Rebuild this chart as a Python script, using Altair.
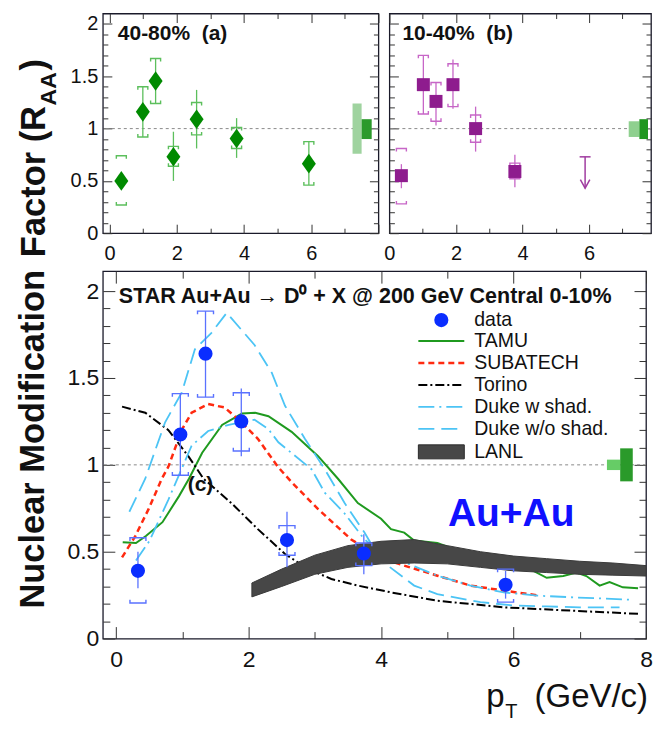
import altair as alt
import pandas as pd

FONT = "Liberation Sans"

# ---------------- Panel (a): 40-80% ----------------
a_pt      = [0.35, 0.99, 1.37, 1.90, 2.59, 3.78, 5.93]
a_val     = [0.50, 1.16, 1.455, 0.73, 1.09, 0.905, 0.665]
a_stat_lo = [0.45, 0.92, 1.24, 0.50, 0.81, 0.72, 0.46]
a_stat_hi = [0.56, 1.40, 1.67, 0.97, 1.37, 1.10, 0.875]
a_sys_lo  = [0.27, 0.92, 1.24, 0.64, 0.94, 0.81, 0.46]
a_sys_hi  = [0.74, 1.40, 1.67, 0.83, 1.25, 1.01, 0.875]
a_norm_light = [7.23, 7.50, 0.76, 1.24]
a_norm_dark  = [7.50, 7.80, 0.90, 1.09]

# ---------------- Panel (b): 10-40% ----------------
b_pt      = [0.36, 1.02, 1.40, 1.91, 2.59, 3.77]
b_val     = [0.55, 1.42, 1.26, 1.42, 1.00, 0.59]
b_stat_lo = [0.43, 1.14, 1.03, 1.19, 0.78, 0.44]
b_stat_hi = [0.66, 1.70, 1.44, 1.66, 1.21, 0.75]
b_sys_lo  = [0.28, 1.14, 1.07, 1.21, 0.87, 0.52]
b_sys_hi  = [0.81, 1.70, 1.44, 1.62, 1.13, 0.67]
b_limit_pt = [5.88]
b_limit_hi = [0.73]
b_limit_lo = [0.43]
b_norm_light = [7.19, 7.51, 0.92, 1.07]
b_norm_dark  = [7.51, 7.77, 0.90, 1.09]

# ---------------- Panel (c): central 0-10% ----------------
c_pt      = [0.33, 0.97, 1.35, 1.89, 2.58, 3.74, 5.88]
c_val     = [0.39, 1.175, 1.64, 1.25, 0.567, 0.49, 0.31]
c_stat_lo = [0.29, 0.94, 1.39, 1.05, 0.41, 0.37, 0.23]
c_stat_hi = [0.50, 1.41, 1.885, 1.44, 0.73, 0.60, 0.39]
c_sys_lo  = [0.205, 0.94, 1.39, 1.08, 0.48, 0.42, 0.21]
c_sys_hi  = [0.58, 1.41, 1.885, 1.415, 0.65, 0.55, 0.40]
c_norm_light = [7.41, 7.61, 0.97, 1.03]
c_norm_dark  = [7.61, 7.80, 0.905, 1.095]

tamu_x = [0.1, 0.3, 0.45, 0.7, 0.95, 1.1, 1.3, 1.6, 1.9, 2.1, 2.3, 2.65, 3.05, 3.35, 3.65, 4.0,
          4.15, 4.35, 4.5, 4.85, 5.35, 5.95, 6.3, 6.5, 6.75, 6.95, 7.1, 7.3, 7.45, 7.65, 7.88]
tamu_y = [0.555, 0.55, 0.59, 0.67, 0.82, 0.92, 1.07, 1.23, 1.295, 1.30, 1.28, 1.19, 1.05, 0.92, 0.78, 0.69,
          0.63, 0.61, 0.565, 0.55, 0.48, 0.42, 0.39, 0.35, 0.36, 0.38, 0.36, 0.305, 0.325, 0.295, 0.29]

subatech_x = [0.09, 0.29, 0.49, 0.69, 0.79, 0.99, 1.14, 1.39, 1.64, 1.89, 2.14, 2.44, 2.65, 3.05,
              3.55, 3.85, 4.1, 4.35, 4.85, 5.35, 5.85, 6.4]
subatech_y = [0.467, 0.59, 0.745, 0.92, 0.99, 1.20, 1.30, 1.35, 1.33, 1.245, 1.15, 0.99, 0.90, 0.745,
              0.57, 0.50, 0.45, 0.42, 0.362, 0.305, 0.276, 0.247]

torino_x = [0.09, 0.44, 0.79, 1.09, 1.32, 1.74, 2.14, 2.55, 2.90, 3.25, 3.65, 4.15, 4.85, 5.85, 6.86, 7.9]
torino_y = [1.335, 1.30, 1.20, 1.05, 0.92, 0.78, 0.63, 0.487, 0.40, 0.343, 0.305, 0.266, 0.218, 0.18, 0.161, 0.142]

duke_shad_x = [0.3, 0.5, 0.79, 1.14, 1.39, 1.7, 2.09, 2.30, 2.45, 2.95, 3.15, 3.45, 3.75, 4.0, 4.35,
               4.85, 5.35, 5.85, 6.36, 6.86, 7.76]
duke_shad_y = [0.45, 0.56, 0.80, 1.11, 1.195, 1.23, 1.26, 1.205, 1.13, 0.975, 0.84, 0.72, 0.57, 0.497, 0.44,
               0.362, 0.305, 0.266, 0.247, 0.238, 0.224]

duke_noshad_x = [0.2, 0.44, 0.74, 0.99, 1.19, 1.44, 1.67, 2.09, 2.35, 2.55, 2.85, 3.15, 3.45, 3.75, 4.0,
                 4.5, 4.85, 5.5, 6.0, 6.5, 7.0, 7.6]
duke_noshad_y = [0.73, 0.92, 1.245, 1.415, 1.665, 1.76, 1.875, 1.69, 1.53, 1.34, 1.15, 0.975, 0.78, 0.61, 0.45,
                 0.305, 0.256, 0.21, 0.19, 0.185, 0.18, 0.18]

lanl_x   = [2.05, 2.5, 3.0, 3.5, 4.0, 4.5, 5.0, 5.5, 6.0, 6.5, 7.0, 7.5, 8.0]
lanl_top = [0.32, 0.40, 0.48, 0.535, 0.56, 0.57, 0.535, 0.50, 0.475, 0.46, 0.445, 0.435, 0.42]
lanl_bot = [0.24, 0.30, 0.37, 0.41, 0.43, 0.435, 0.43, 0.41, 0.39, 0.38, 0.37, 0.365, 0.36]

unity = [1.0]

# axis tick values
x_labels_top = [0, 2, 4, 6]
x_labels_bottom = [0, 2, 4, 6, 8]
y_labels = [0, 0.5, 1, 1.5, 2]
x_major = [0, 2, 4, 6, 8]
x_minor = [1, 3, 5, 7]
y_major = [0, 0.5, 1, 1.5, 2]
y_minor = [0.1, 0.2, 0.3, 0.4, 0.6, 0.7, 0.8, 0.9, 1.1, 1.2, 1.3, 1.4, 1.6, 1.7, 1.8, 1.9]

DUMMY = pd.DataFrame({"k": [0]})


def axis_layers(xs, ys, xlab, ylab, lmaj, lmin, lsize, xpad, ypad):
    d = pd.DataFrame({"x": [1.0], "y": [1.0]})
    common = dict(domain=False, grid=False, title=None)

    def tick_axis(orient, vals, L):
        return alt.Axis(orient=orient, values=vals, offset=-L, tickSize=L, labels=False,
                        tickColor="#333333", tickWidth=1, **common)

    def lab_axis(orient, vals, pad):
        if vals is None:
            return None
        return alt.Axis(orient=orient, values=vals, ticks=False, tickSize=0, labels=True,
                        labelFont=FONT, labelFontSize=lsize, labelColor="#111111",
                        labelPadding=pad, labelFlush=False, labelOverlap=False,
                        format="~g", **common)

    pairs = [
        (lab_axis("bottom", xlab, xpad), lab_axis("left", ylab, ypad)),
        (tick_axis("bottom", x_major, lmaj), tick_axis("left", y_major, lmaj)),
        (tick_axis("bottom", x_minor, lmin), tick_axis("left", y_minor, lmin)),
        (tick_axis("top", x_major, lmaj), tick_axis("right", y_major, lmaj)),
        (tick_axis("top", x_minor, lmin), tick_axis("right", y_minor, lmin)),
    ]
    return [alt.Chart(d).mark_point(opacity=0).encode(
        x=alt.X("x:Q", scale=xs, axis=ax), y=alt.Y("y:Q", scale=ys, axis=ay)) for ax, ay in pairs]


def unity_layer(xs, ys):
    return alt.Chart(pd.DataFrame({"one": unity})).mark_rule(
        color="#8a8a8a", strokeDash=[3, 3], strokeWidth=1).encode(
        y=alt.Y("one:Q", scale=ys, axis=None))


def norm_layers(xs, ys, light, dark, clight, cdark):
    out = []
    for box, col in ((light, clight), (dark, cdark)):
        df = pd.DataFrame({"x0": [box[0]], "x1": [box[1]], "lo": [box[2]], "hi": [box[3]]})
        out.append(alt.Chart(df).mark_rect(color=col, opacity=1).encode(
            x=alt.X("x0:Q", scale=xs, axis=None), x2="x1:Q",
            y=alt.Y("lo:Q", scale=ys, axis=None), y2="hi:Q"))
    return out


def point_layers(df, xs, ys, color, ecol, shape, size, bsize, stub):
    X = alt.X("pt:Q", scale=xs, axis=None)
    top = f"M-1,{stub}L-1,0L1,0L1,{stub}"
    bot = f"M-1,-{stub}L-1,0L1,0L1,-{stub}"
    stat = alt.Chart(df).mark_rule(color=ecol, strokeWidth=1.3).encode(
        x=X, y=alt.Y("stat_lo:Q", scale=ys, axis=None), y2="stat_hi:Q")
    bt = alt.Chart(df).mark_point(shape=top, size=bsize, filled=False, color=ecol,
                                  strokeWidth=1.4, opacity=1).encode(
        x=X, y=alt.Y("sys_hi:Q", scale=ys, axis=None))
    bb = alt.Chart(df).mark_point(shape=bot, size=bsize, filled=False, color=ecol,
                                  strokeWidth=1.4, opacity=1).encode(
        x=X, y=alt.Y("sys_lo:Q", scale=ys, axis=None))
    pts = alt.Chart(df).mark_point(shape=shape, size=size, filled=True, color=color,
                                   opacity=1).encode(x=X, y=alt.Y("val:Q", scale=ys, axis=None))
    return [stat, bt, bb, pts]


def text_layer(text, x, y, size, bold=True, color="#111111", align="left", angle=0):
    kw = dict(text=text, font=FONT, fontSize=size, fontWeight="bold" if bold else "normal",
              color=color, align=align, baseline="alphabetic")
    if angle:
        kw["angle"] = angle
    return alt.Chart(DUMMY).mark_text(**kw).encode(x=alt.value(x), y=alt.value(y))


# ---------------- build panel (a) ----------------
xs_a = alt.Scale(domain=[-0.2, 8], nice=False, zero=False)
ys_top = alt.Scale(domain=[0, 2.1], nice=False, zero=False)
df_a = pd.DataFrame({"pt": a_pt, "val": a_val, "stat_lo": a_stat_lo, "stat_hi": a_stat_hi,
                     "sys_lo": a_sys_lo, "sys_hi": a_sys_hi})
diamond = "M0,-1.4L1,0L0,1.4L-1,0Z"
YT = 34.5  # y-title font size
layers_a = (axis_layers(xs_a, ys_top, x_labels_top, y_labels, 9, 5, 20, 10, 5)
            + [unity_layer(xs_a, ys_top)]
            + norm_layers(xs_a, ys_top, a_norm_light, a_norm_dark, "#9fd39f", "#2b9a2b")
            + point_layers(df_a, xs_a, ys_top, "#008a00", "#5cbf5c", diamond, 196, 100, 0.6)
            + [text_layer("40-80%\u00a0 (a)", 15, 27, 21),
               # upper part of the shared y-axis title
               text_layer("Factor (R", -58, 244, YT, angle=270),
               text_layer("AA", -47, 92, 23, angle=270),
               text_layer(")", -58, 57, YT, angle=270)])
panel_a = alt.layer(*layers_a).properties(width=276, height=220).resolve_axis(
    x="independent", y="independent")

# ---------------- build panel (b) ----------------
xs_b = alt.Scale(domain=[0, 7.86], nice=False, zero=False)
df_b = pd.DataFrame({"pt": b_pt, "val": b_val, "stat_lo": b_stat_lo, "stat_hi": b_stat_hi,
                     "sys_lo": b_sys_lo, "sys_hi": b_sys_hi})
df_lim = pd.DataFrame({"pt": b_limit_pt, "hi": b_limit_hi, "lo": b_limit_lo})
lim_rule = alt.Chart(df_lim).mark_rule(color="#a03ca0", strokeWidth=1.5).encode(
    x=alt.X("pt:Q", scale=xs_b, axis=None), y=alt.Y("lo:Q", scale=ys_top, axis=None), y2="hi:Q")
lim_cap = alt.Chart(df_lim).mark_point(shape="M-1,0L1,0", size=121, filled=False, color="#a03ca0",
                                       strokeWidth=1.5, opacity=1).encode(
    x=alt.X("pt:Q", scale=xs_b, axis=None), y=alt.Y("hi:Q", scale=ys_top, axis=None))
lim_head = alt.Chart(df_lim).mark_point(shape="M-1,-1.8L0,0L1,-1.8", size=90, filled=False,
                                        color="#a03ca0", strokeWidth=1.5, opacity=1).encode(
    x=alt.X("pt:Q", scale=xs_b, axis=None), y=alt.Y("lo:Q", scale=ys_top, axis=None))
layers_b = (axis_layers(xs_b, ys_top, x_labels_top, None, 9, 5, 20, 10, 5)
            + [unity_layer(xs_b, ys_top)]
            + norm_layers(xs_b, ys_top, b_norm_light, b_norm_dark, "#8fd08f", "#1f961f")
            + point_layers(df_b, xs_b, ys_top, "#8e1c8e", "#c766c7", "square", 169, 100, 0.6)
            + [lim_rule, lim_cap, lim_head]
            + [text_layer("10-40%\u00a0 (b)", 13, 27, 21)])
panel_b = alt.layer(*layers_b).properties(width=262, height=220).resolve_axis(
    x="independent", y="independent")

# ---------------- build panel (c) ----------------
xs_c = alt.Scale(domain=[-0.2, 8], nice=False, zero=False)
ys_c = alt.Scale(domain=[0, 2.115], nice=False, zero=False)
df_c = pd.DataFrame({"pt": c_pt, "val": c_val, "stat_lo": c_stat_lo, "stat_hi": c_stat_hi,
                     "sys_lo": c_sys_lo, "sys_hi": c_sys_hi})


def curve(xv, yv, color, dash, width):
    df = pd.DataFrame({"x": xv, "y": yv})
    kw = dict(color=color, strokeWidth=width)
    if dash:
        kw["strokeDash"] = dash
    return alt.Chart(df).mark_line(**kw).encode(
        x=alt.X("x:Q", scale=xs_c, axis=None), y=alt.Y("y:Q", scale=ys_c, axis=None))


C_TAMU, C_SUB, C_TOR, C_DUKE = "#1f9a1f", "#ff2a10", "#000000", "#4cc4f5"
D_SUB, D_TOR, D_DW, D_DWO = [6, 4], [9, 3, 2, 3], [16, 5, 2, 5], [16, 7]

curves = [
    curve(tamu_x, tamu_y, C_TAMU, None, 2),
    curve(subatech_x, subatech_y, C_SUB, D_SUB, 2.5),
    curve(torino_x, torino_y, C_TOR, D_TOR, 2),
    curve(duke_shad_x, duke_shad_y, C_DUKE, D_DW, 1.8),
    curve(duke_noshad_x, duke_noshad_y, C_DUKE, D_DWO, 1.8),
]
lanl = alt.Chart(pd.DataFrame({"x": lanl_x, "top": lanl_top, "bot": lanl_bot})).mark_area(
    color="#474747", opacity=1, stroke="#3a3a3a", strokeWidth=1).encode(
    x=alt.X("x:Q", scale=xs_c, axis=None), y=alt.Y("top:Q", scale=ys_c, axis=None), y2="bot:Q")

# legend (drawn in pixel space inside the panel)
LX0, LX1, LT = 316, 362, 372
legend = []
legend.append(alt.Chart(DUMMY).mark_point(shape="circle", size=200, filled=True, color="#0a2dff",
                                          opacity=1).encode(x=alt.value(339), y=alt.value(49)))
for ypix, col, dash, w in ((70, C_TAMU, None, 2), (92, C_SUB, D_SUB, 2.5), (114, C_TOR, D_TOR, 2),
                           (136, C_DUKE, D_DW, 1.8), (158, C_DUKE, D_DWO, 1.8)):
    kw = dict(color=col, strokeWidth=w)
    if dash:
        kw["strokeDash"] = dash
    legend.append(alt.Chart(DUMMY).mark_rule(**kw).encode(
        x=alt.value(LX0), x2=alt.value(LX1), y=alt.value(ypix)))
legend.append(alt.Chart(DUMMY).mark_rect(color="#474747", stroke="#2a2a2a", strokeWidth=1).encode(
    x=alt.value(LX0), x2=alt.value(LX1), y=alt.value(174), y2=alt.value(188)))
legend_names = ["data", "TAMU", "SUBATECH", "Torino", "Duke w shad.", "Duke w/o shad.", "LANL"]
legend_rows = [49, 70, 92, 114, 136, 158, 181]
for name, ypix in zip(legend_names, legend_rows):
    legend.append(alt.Chart(DUMMY).mark_text(text=name, font=FONT, fontSize=19.5, color="#111111",
                                             align="left", baseline="middle").encode(
        x=alt.value(LT), y=alt.value(ypix)))

texts_c = [
    text_layer("STAR Au+Au \u2192 D\u2070 + X @ 200 GeV Central 0-10%", 16, 32, 21.5),
    text_layer("(c)", 85, 220, 21),
    text_layer("Au+Au", 409, 255, 39, color="#1010ff", align="center"),
    # x-axis title
    text_layer("p", 384, 437, 33, bold=False),
    text_layer("T", 403, 448, 20, bold=False),
    text_layer("(GeV/c)", 546, 437, 33, bold=False, align="right"),
    # lower part of the shared y-axis title
    text_layer("Nuclear Modification", -59, 338, YT, angle=270),
]

layers_c = (axis_layers(xs_c, ys_c, x_labels_bottom, y_labels, 12, 7, 23, 10, 4)
            + [unity_layer(xs_c, ys_c)]
            + norm_layers(xs_c, ys_c, c_norm_light, c_norm_dark, "#66cc66", "#2a9a2a")
            + curves + [lanl]
            + point_layers(df_c, xs_c, ys_c, "#0a2dff", "#5a72ff", "circle", 200, 256, 0.4)
            + legend + texts_c)
panel_c = alt.layer(*layers_c).properties(width=544, height=368).resolve_axis(
    x="independent", y="independent")

top_row = alt.hconcat(panel_a, panel_b, spacing=11, bounds="flush")
chart = alt.vconcat(top_row, panel_c, spacing=5).properties(
    padding={"left": 15, "top": 11, "right": 0, "bottom": 0}
).configure_view(stroke="#1a1a2a", strokeWidth=1.3)

chart.save("out.html", embed_options={"renderer": "svg", "actions": False})
